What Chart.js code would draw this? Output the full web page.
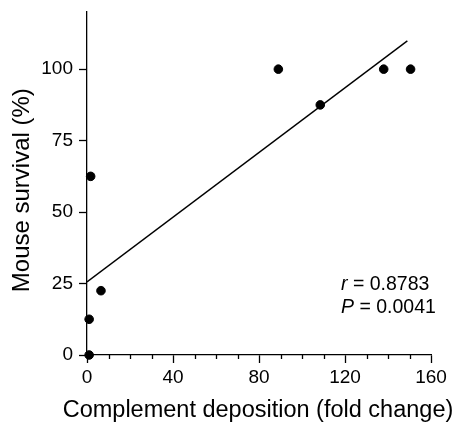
<!DOCTYPE html>
<html lang="en">
<head>
    <meta charset="UTF-8">
    <title>Complement deposition vs mouse survival</title>
    <style>
        html, body {
            margin: 0;
            padding: 0;
            background: #fff;
        }
        #wrap {
            width: 459px;
            height: 422px;
        }
    </style>
    <script src="https://cdn.jsdelivr.net/npm/chart.js"></script>
</head>
<body>
    <div id="wrap"><canvas id="chart"></canvas></div>
    <script>
        // data
        const depositionX = [1, 1, 1.7, 6.5, 89, 108.5, 138, 150.5];
        const survivalY = [0, 12.5, 62.5, 22.5, 100, 87.5, 100, 100];
        const fitX = [0, 149];
        const fitY = [25.6, 109.9];
        const yTicks = [0, 25, 50, 75, 100];
        const xTitle = 'Complement deposition (fold change)';
        const yTitle = 'Mouse survival (%)';
        const statsText = ['r', ' = 0.8783', 'P', ' = 0.0041'];

        const font = "'Liberation Sans', Arial, Helvetica, sans-serif";

        // minor ticks on x axis are shorter than the labelled ones
        const minorTicks = {
            id: 'minorTicks',
            afterDraw(chart) {
                const ctx = chart.ctx;
                const xs = chart.scales.x;
                const bottom = chart.chartArea.bottom;
                ctx.save();
                ctx.strokeStyle = '#000';
                ctx.lineWidth = 1.3;
                for (let v = 10; v < 160; v += 10) {
                    if (v % 40 === 0) continue;
                    const px = Math.round(xs.getPixelForValue(v)) + 0.5;
                    ctx.beginPath();
                    ctx.moveTo(px, bottom);
                    ctx.lineTo(px, bottom + 4);
                    ctx.stroke();
                }
                ctx.restore();
            }
        };

        // the x title is wider than the plot, so Chart.js would squeeze it; draw it here
        const xTitleLabel = {
            id: 'xTitleLabel',
            afterDraw(chart) {
                const ctx = chart.ctx;
                const area = chart.chartArea;
                ctx.save();
                ctx.fillStyle = '#000';
                ctx.font = '23.5px ' + font;
                ctx.textAlign = 'center';
                ctx.textBaseline = 'alphabetic';
                ctx.fillText(xTitle, (area.left + area.right) / 2 - 1, 417);
                ctx.restore();
            }
        };

        const statsLabel = {
            id: 'statsLabel',
            afterDraw(chart) {
                const ctx = chart.ctx;
                ctx.save();
                ctx.fillStyle = '#000';
                ctx.textBaseline = 'alphabetic';
                const lines = [[statsText[0], statsText[1], 290], [statsText[2], statsText[3], 313]];
                lines.forEach(([it, rest, y]) => {
                    let x = 341;
                    ctx.font = 'italic 19.5px ' + font;
                    ctx.fillText(it, x, y);
                    x += ctx.measureText(it).width;
                    ctx.font = '19.5px ' + font;
                    ctx.fillText(rest, x, y);
                });
                ctx.restore();
            }
        };

        new Chart(document.getElementById('chart'), {
            type: 'scatter',
            data: {
                datasets: [
                    {
                        label: 'Mice',
                        data: depositionX.map((x, i) => ({ x: x, y: survivalY[i] })),
                        backgroundColor: '#000',
                        borderColor: '#000',
                        pointRadius: 4.3,
                        pointHoverRadius: 4.3,
                        clip: false
                    },
                    {
                        label: 'Fit',
                        type: 'line',
                        data: fitX.map((x, i) => ({ x: x, y: fitY[i] })),
                        borderColor: '#000',
                        borderWidth: 1.4,
                        pointRadius: 0,
                        fill: false
                    }
                ]
            },
            options: {
                responsive: true,
                maintainAspectRatio: false,
                animation: false,
                layout: {
                    padding: { top: 12, right: 28, left: 0, bottom: 0 }
                },
                plugins: {
                    legend: { display: false },
                    tooltip: { enabled: false }
                },
                scales: {
                    x: {
                        type: 'linear',
                        min: 0,
                        max: 160,
                        afterFit(scale) {
                            scale.height = 67;
                            scale.paddingLeft = 0;
                            scale.paddingRight = 0;
                        },
                        border: { display: true, color: '#000', width: 1.3 },
                        grid: {
                            drawOnChartArea: false,
                            drawTicks: true,
                            tickLength: 8,
                            tickWidth: 1.3,
                            tickColor: ctx => (ctx.tick && ctx.tick.value % 40 === 0) ? '#000' : 'rgba(0,0,0,0)'
                        },
                        ticks: {
                            stepSize: 10,
                            autoSkip: false,
                            maxRotation: 0,
                            color: '#000',
                            padding: 3,
                            font: { family: font, size: 19 },
                            callback: v => (v % 40 === 0 ? String(v) : '')
                        },
                        title: { display: false }
                    },
                    y: {
                        type: 'linear',
                        min: 0,
                        max: 120,
                        afterFit(scale) {
                            scale.width = 87;
                            scale.paddingTop = 0;
                            scale.paddingBottom = 0;
                        },
                        afterBuildTicks(scale) {
                            scale.ticks = yTicks.map(v => ({ value: v }));
                        },
                        border: { display: true, color: '#000', width: 1.3 },
                        grid: {
                            drawOnChartArea: false,
                            drawTicks: true,
                            tickLength: 8,
                            tickWidth: 1.3,
                            tickColor: '#000'
                        },
                        ticks: {
                            color: '#000',
                            padding: 6,
                            font: { family: font, size: 19 }
                        },
                        title: {
                            display: true,
                            // trailing spaces nudge the rotated title down to where the figure has it
                            text: yTitle + '  ',
                            color: '#000',
                            font: { family: font, size: 24 },
                            padding: { top: 7.5, bottom: 0 }
                        }
                    }
                }
            },
            plugins: [minorTicks, xTitleLabel, statsLabel]
        });
    </script>
</body>
</html>
